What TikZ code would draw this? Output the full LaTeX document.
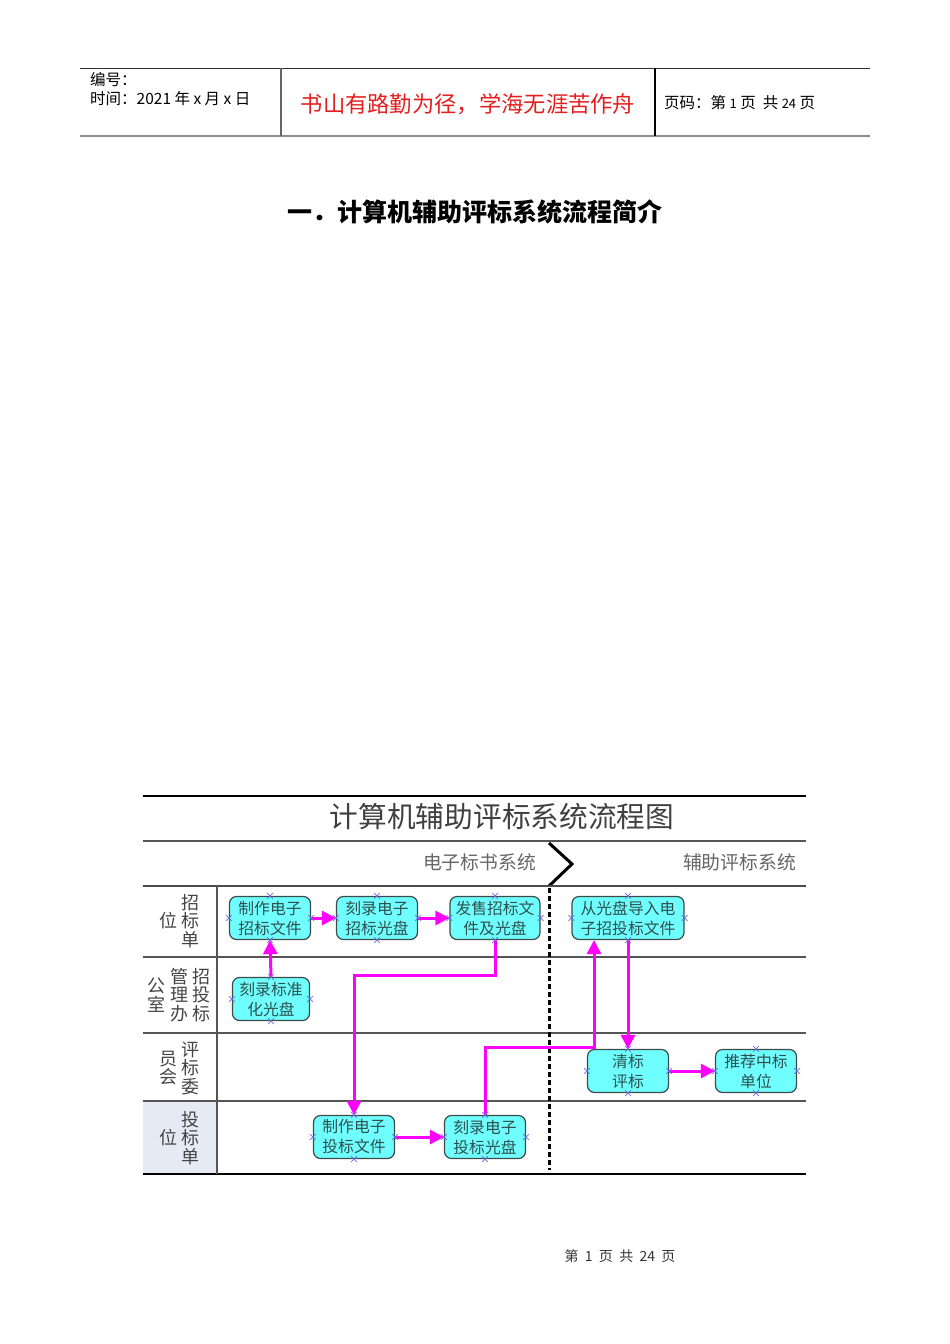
\documentclass[tikz,border=0pt]{standalone}
\usepackage{fontspec}
\setmainfont{Noto Sans CJK SC}
\usetikzlibrary{arrows.meta,shapes.misc}
\definecolor{boxfill}{HTML}{70FFFF}
\definecolor{boxline}{HTML}{3C4A4A}
\definecolor{boxtext}{HTML}{2F4F4F}
\definecolor{flowc}{HTML}{FF00FF}
\definecolor{xmc}{HTML}{6A6AE0}
\definecolor{lanegray}{HTML}{555555}
\definecolor{labeltext}{HTML}{444444}
\definecolor{headred}{HTML}{E41E1E}
\definecolor{lanebg}{HTML}{E6EAF5}
\begin{document}
\begin{tikzpicture}[x=1pt,y=-1pt,
  proc/.style={draw=boxline,line width=1.2pt,fill=boxfill,rounded corners=7pt,
    inner sep=0pt,align=center,text=boxtext,font=\fontsize{15.8}{20}\selectfont,
    minimum height=43pt},
  flow/.style={draw=flowc,line width=3pt,-{Triangle[length=14pt,width=14pt]}},
  xmark/.style={cross out,draw=xmc,line width=0.8pt,minimum size=5pt,inner sep=0pt},
  lanelbl/.style={align=center,text=labeltext,font=\fontsize{18}{18.5}\selectfont,inner sep=0pt},
  hdr/.style={anchor=west,inner sep=0pt,font=\fontsize{15.5}{17}\selectfont}]
\useasboundingbox (0,0) rectangle (950,1344);
% ---------- header ----------
\draw[line width=1pt,black!80] (80,68) -- (870,68);
\draw[line width=2pt,black!45] (80,136) -- (870,136);
\draw[line width=1.2pt,black!60] (281,68) -- (281,136);
\draw[line width=1.2pt,black] (655,68) -- (655,136);
\node[hdr] (h1) at (90,80) {编号：};
\node[hdr] (h2) at (90,99) {时间：2021 年 x 月 x 日};
\node[inner sep=0pt,text=headred,font=\fontsize{22.3}{24}\selectfont] (h3) at (468,104) {书山有路勤为径，学海无涯苦作舟};
\node[hdr] (h4) at (664,103) {页码：第 {\fontsize{13}{15}\selectfont 1} 页\ \ 共 {\fontsize{13}{15}\selectfont 24} 页};
% ---------- title ----------
\node[inner sep=0pt,font=\fontsize{25}{27}\selectfont\bfseries] (title) at (475,212) {一．计算机辅助评标系统流程简介};
% ---------- flowchart frame ----------
\draw[line width=1.2pt,black] (143,796) -- (806,796);
\node[inner sep=0pt,text=black!75,font=\fontsize{28.7}{30}\selectfont] (ftitle) at (502,817) {计算机辅助评标系统流程图};
\draw[line width=1.5pt,lanegray] (143,841) -- (806,841);
\node[anchor=east,inner sep=0pt,text=black!60,font=\fontsize{18.8}{20}\selectfont] (sys1) at (536,862) {电子标书系统};
\node[anchor=east,inner sep=0pt,text=black!60,font=\fontsize{18.8}{20}\selectfont] (sys2) at (796,862) {辅助评标系统};
\draw[line width=3pt,black,line join=miter] (549,843) -- (572,864) -- (549,886);
\fill[lanebg] (143,1101) rectangle (217,1174);
\draw[line width=2pt,black!70] (143,886) -- (806,886);
\draw[line width=2pt,lanegray] (143,957) -- (806,957);
\draw[line width=2pt,lanegray] (143,1033) -- (806,1033);
\draw[line width=2pt,lanegray] (143,1101) -- (806,1101);
\draw[line width=1.5pt,black] (143,1174) -- (806,1174);
\draw[line width=2pt,lanegray] (217,886) -- (217,1174);
\draw[line width=3pt,black,dash pattern=on 5pt off 3pt] (549,888) -- (549,1170);
% ---------- lane labels ----------
\node[lanelbl] (l1a) at (190,921) {招\\标\\单};
\node[lanelbl] (l1b) at (168,921) {位};
\node[lanelbl] (l2a) at (201,995) {招\\投\\标};
\node[lanelbl] (l2b) at (179,995) {管\\理\\办};
\node[lanelbl] (l2c) at (156,995) {公\\室};
\node[lanelbl] (l3a) at (190,1068) {评\\标\\委};
\node[lanelbl] (l3b) at (168,1068) {员\\会};
\node[lanelbl] (l4a) at (190,1138) {投\\标\\单};
\node[lanelbl] (l4b) at (168,1138) {位};
% ---------- process boxes ----------
\node[proc,minimum width=81pt] (n1) at (270,918) {制作电子\\招标文件};
\node[proc,minimum width=81pt] (n2) at (377,918) {刻录电子\\招标光盘};
\node[proc,minimum width=90pt] (n3) at (495,918) {发售招标文\\件及光盘};
\node[proc,minimum width=112pt] (n4) at (628,918) {从光盘导入电\\子招投标文件};
\node[proc,minimum width=77pt] (n5) at (271,999) {刻录标准\\化光盘};
\node[proc,minimum width=81pt] (n6) at (628,1071) {清标\\评标};
\node[proc,minimum width=81pt] (n7) at (756,1071) {推荐中标\\单位};
\node[proc,minimum width=81pt] (n8) at (354,1137) {制作电子\\投标文件};
\node[proc,minimum width=81pt] (n9) at (485,1137) {刻录电子\\投标光盘};
% ---------- connectors ----------
\draw[flow] (n1.east) -- (n2.west);
\draw[flow] (n2.east) -- (n3.west);
\draw[flow] (n5.north) -- (n1.south);
\draw[flow] (n3.south) -- ++(0,35) -| (n8.north);
\draw[flow] (n9.north) -- ++(0,-67) -| ([xshift=-34pt]n4.south);
\draw[flow] (n4.south) -- (n6.north);
\draw[flow] (n8.east) -- (n9.west);
\draw[flow] (n6.east) -- (n7.west);
% ---------- connection point markers ----------
\foreach \n in {n1,n2,n3,n4,n5,n6,n7,n8,n9}
  \foreach \a in {north,south,east,west}
    \node[xmark] at (\n.\a) {};
% ---------- footer ----------
\node[inner sep=0pt,text=black!80,font=\fontsize{14}{16}\selectfont] (foot) at (620,1256) {第\ \ 1\ \ 页\ \ 共\ \ 24\ \ 页};
\end{tikzpicture}
\end{document}
